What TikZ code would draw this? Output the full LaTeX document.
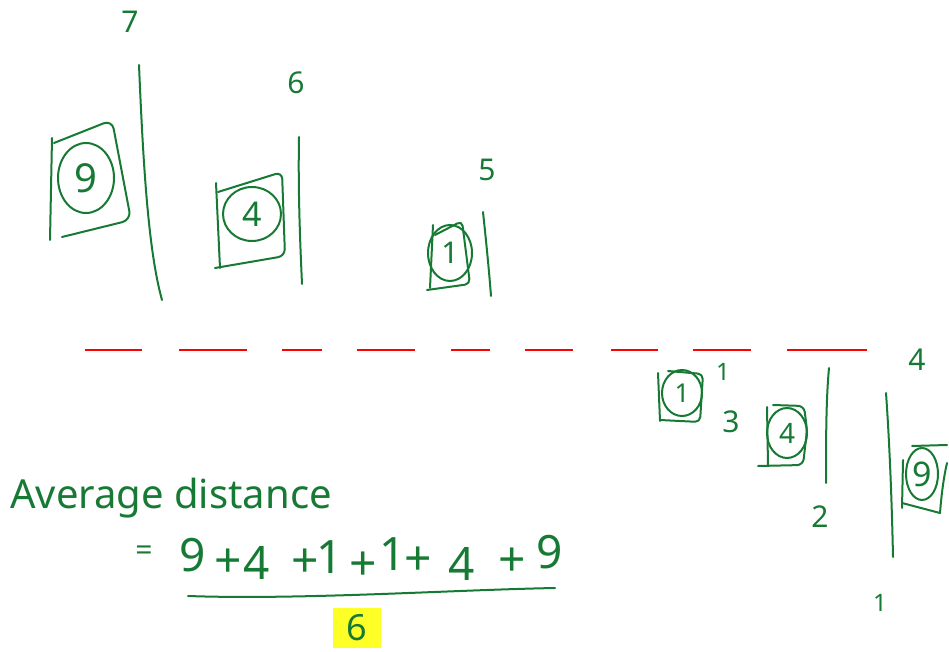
\documentclass[tikz,border=0pt]{standalone}
\usepackage{fontspec}
\setmainfont{Noto Sans}
\usetikzlibrary{shapes.geometric}
\definecolor{ink}{RGB}{22,122,52}
\definecolor{hl}{RGB}{255,255,40}
\begin{document}
\begin{tikzpicture}[x=1pt,y=-1pt,
  hw/.style={text=ink,inner sep=0pt,font=\fontsize{#1}{#1}\selectfont},
  hw/.default=30,
  ring/.style={draw=ink,line width=2pt,ellipse,inner sep=0pt},
  pen/.style={draw=ink,line width=2pt,line cap=round,line join=round},
  reddash/.style={draw=red,line width=1.8pt}]
\useasboundingbox (0,0) rectangle (949,652);

% ---------- upper row ----------
\node[hw] (l7) at (130,22) {7};
\draw[pen] (139,65) .. controls (143,160) and (148,250) .. (162,300);
\draw[pen] (52,138) -- (50,240);
\draw[pen,rounded corners=9pt] (54,143) -- (112,120) -- (131,220) -- (62,237);
\node[ring,minimum width=56pt,minimum height=70pt,hw=40] (c9a) at (86,178) {9};

\node[hw] (l6) at (296,83) {6};
\draw[pen] (299,137) .. controls (298,190) and (300,240) .. (302,284);
\draw[pen] (216,183) -- (220,268);
\draw[pen,rounded corners=7pt] (218,192) -- (282,172) -- (285,256) -- (215,268);
\node[ring,minimum width=58pt,minimum height=54pt,hw=34] (c4a) at (252,214) {4};

\node[hw] (l5) at (487,170) {5};
\draw[pen] (483,212) .. controls (486,240) and (489,270) .. (491,296);
\draw[pen] (433,225) -- (430,288);
\draw[pen,rounded corners=5pt] (435,235) -- (462,221) -- (470,284) -- (427,290);
\node[ring,minimum width=44pt,minimum height=56pt,hw=30] (c1a) at (450,253) {1};

% ---------- red dashed divider ----------
\foreach \a/\b in {85/142,179/247,282/322,357/415,451/490,525/573,611/658,693/751,787/867}
  \draw[reddash] (\a,350) -- (\b,350);

% ---------- lower row ----------
\node[hw] (l4) at (917,360) {4};
\node[hw=24] (l1b) at (723,372) {1};
\node[hw] (l3) at (731,422) {3};
\node[hw] (l2) at (820,517) {2};
\node[hw=24] (l1c) at (880,603) {1};

\draw[pen] (658,373) -- (660,421);
\draw[pen,rounded corners=5pt] (668,371) -- (703,374) -- (700,422) -- (660,420);
\node[ring,minimum width=40pt,minimum height=46pt,hw=26] (c1b) at (682,393) {1};

\draw[pen] (767,407) -- (768,466);
\draw[pen,rounded corners=6pt] (773,405) -- (804,406) -- (807,430) -- (803,465) -- (758,466);
\node[ring,minimum width=40pt,minimum height=50pt,hw=28] (c4b) at (787,433) {4};

\draw[pen] (829,368) .. controls (826,400) and (826,440) .. (826,483);
\draw[pen] (886,393) .. controls (890,450) and (892,510) .. (893,557);

\draw[pen] (903,460) -- (902,508);
\draw[pen] (912,446) -- (947,445);
\draw[pen] (947,463) .. controls (943,480) and (941,500) .. (940,513) -- (902,503);
\node[ring,minimum width=32pt,minimum height=52pt,hw=34] (c9b) at (922,474) {9};

% ---------- formula ----------
\node[hw=40,anchor=base west] (avg) at (10,508) {Average distance};
\node[hw=30] (eq) at (144,553) {=};
\node[hw=46] (t1) at (193,555) {9};
\node[hw=48] (p1) at (228,563) {+};
\node[hw=46] (t2) at (257,563) {4};
\node[hw=48] (p2) at (305,563) {+};
\node[hw=46] (t3) at (330,557) {1};
\node[hw=48] (p3) at (363,566) {+};
\node[hw=46] (t4) at (393,554) {1};
\node[hw=48] (p4) at (418,561) {+};
\node[hw=46] (t5) at (462,564) {4};
\node[hw=48] (p5) at (512,562) {+};
\node[hw=46] (t6) at (550,552) {9};
\coordinate (fl) at (188,596);
\coordinate (fr) at (555,588);
\draw[pen] (fl) .. controls (300,600) and (450,590) .. (fr);
\node[fill=hl,minimum width=48pt,minimum height=40pt,inner sep=0pt,text=ink,font=\fontsize{36}{36}\selectfont] (den) at (357,628) {6};
\end{tikzpicture}
\end{document}
